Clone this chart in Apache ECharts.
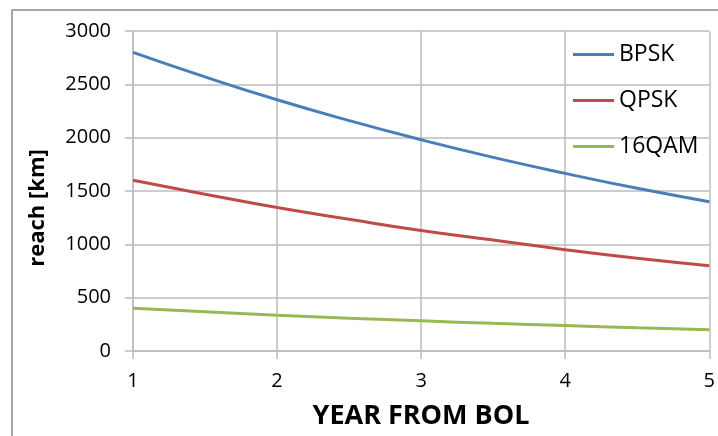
<!DOCTYPE html>
<html>
<head>
<meta charset="utf-8">
<script src="https://cdn.jsdelivr.net/npm/echarts@6/dist/echarts.min.js"></script>
<style>html,body{margin:0;padding:0;background:#fff}#c{width:718px;height:436px}</style>
</head>
<body>
<div id="c"></div>
<script>
var years = [1, 1.5, 2, 2.5, 3, 3.5, 4, 4.5, 5];
var bpsk = [2800, 2570, 2355, 2160, 1980, 1815, 1665, 1525, 1400];
var qpsk = [1600, 1470, 1345, 1235, 1130, 1040, 950, 870, 800];
var qam16 = [400, 367, 336, 308, 283, 259, 238, 218, 200];
var seriesNames = ['BPSK', 'QPSK', '16QAM'];
var yTicks = [0, 500, 1000, 1500, 2000, 2500, 3000];
var xTicks = [1, 2, 3, 4, 5];

function pairs(v){ return years.map(function(x,i){ return [x, v[i]]; }); }
var FONT = '"Open Sans", sans-serif';
var grid = '#bcbcbc';
var chart = echarts.init(document.getElementById('c'));
chart.setOption({
  animation: false,
  backgroundColor: '#fff',
  grid: {left: 133, right: 8, top: 31, bottom: 85},
  graphic: [
    {type: 'rect', shape: {x: 12, y: 10, width: 740, height: 460}, style: {fill: 'none', stroke: '#8a8a8a', lineWidth: 1.5}, z: -1},
    {type: 'text', x: 421, y: 416, style: {text: 'YEAR FROM BOL', font: 'bold 27px ' + FONT, fill: '#000', textAlign: 'center', textVerticalAlign: 'middle'}},
    {type: 'text', x: 38, y: 208, rotation: Math.PI/2, style: {text: 'reach [km]', font: 'bold 22px ' + FONT, fill: '#000', textAlign: 'center', textVerticalAlign: 'middle'}}
  ],
  legend: {
    orient: 'vertical', left: 573, top: 42, padding: 0, itemWidth: 41, itemHeight: 3, itemGap: 21, icon: 'rect',
    textStyle: {fontFamily: FONT, fontSize: 23, color: '#000', lineHeight: 25},
    data: seriesNames
  },
  xAxis: {
    type: 'value', min: xTicks[0], max: xTicks[xTicks.length-1], interval: 1,
    axisLine: {lineStyle: {color: grid, width: 1.5}},
    axisTick: {show: true, length: 8, lineStyle: {color: grid, width: 1.5}},
    axisLabel: {fontFamily: FONT, fontSize: 20, color: '#000', margin: 20, formatter: function(v){ return String(v); }},
    splitLine: {show: true, lineStyle: {color: grid, width: 1.5}}
  },
  yAxis: {
    type: 'value', min: yTicks[0], max: yTicks[yTicks.length-1], interval: 500,
    axisLine: {show: true, lineStyle: {color: grid, width: 1.5}},
    axisTick: {show: true, length: 8, lineStyle: {color: grid, width: 1.5}},
    axisLabel: {fontFamily: FONT, fontSize: 20, color: '#000', margin: 22, formatter: function(v){ return String(v); }},
    splitLine: {show: true, lineStyle: {color: grid, width: 1.5}}
  },
  series: [
    {name: seriesNames[0], type: 'line', smooth: true, showSymbol: false, data: pairs(bpsk), lineStyle: {width: 3, color: '#4a7ebb'}, itemStyle: {color: '#4a7ebb'}},
    {name: seriesNames[1], type: 'line', smooth: true, showSymbol: false, data: pairs(qpsk), lineStyle: {width: 3, color: '#be4b48'}, itemStyle: {color: '#be4b48'}},
    {name: seriesNames[2], type: 'line', smooth: true, showSymbol: false, data: pairs(qam16), lineStyle: {width: 3, color: '#98b954'}, itemStyle: {color: '#98b954'}}
  ]
});
</script>
</body>
</html>
